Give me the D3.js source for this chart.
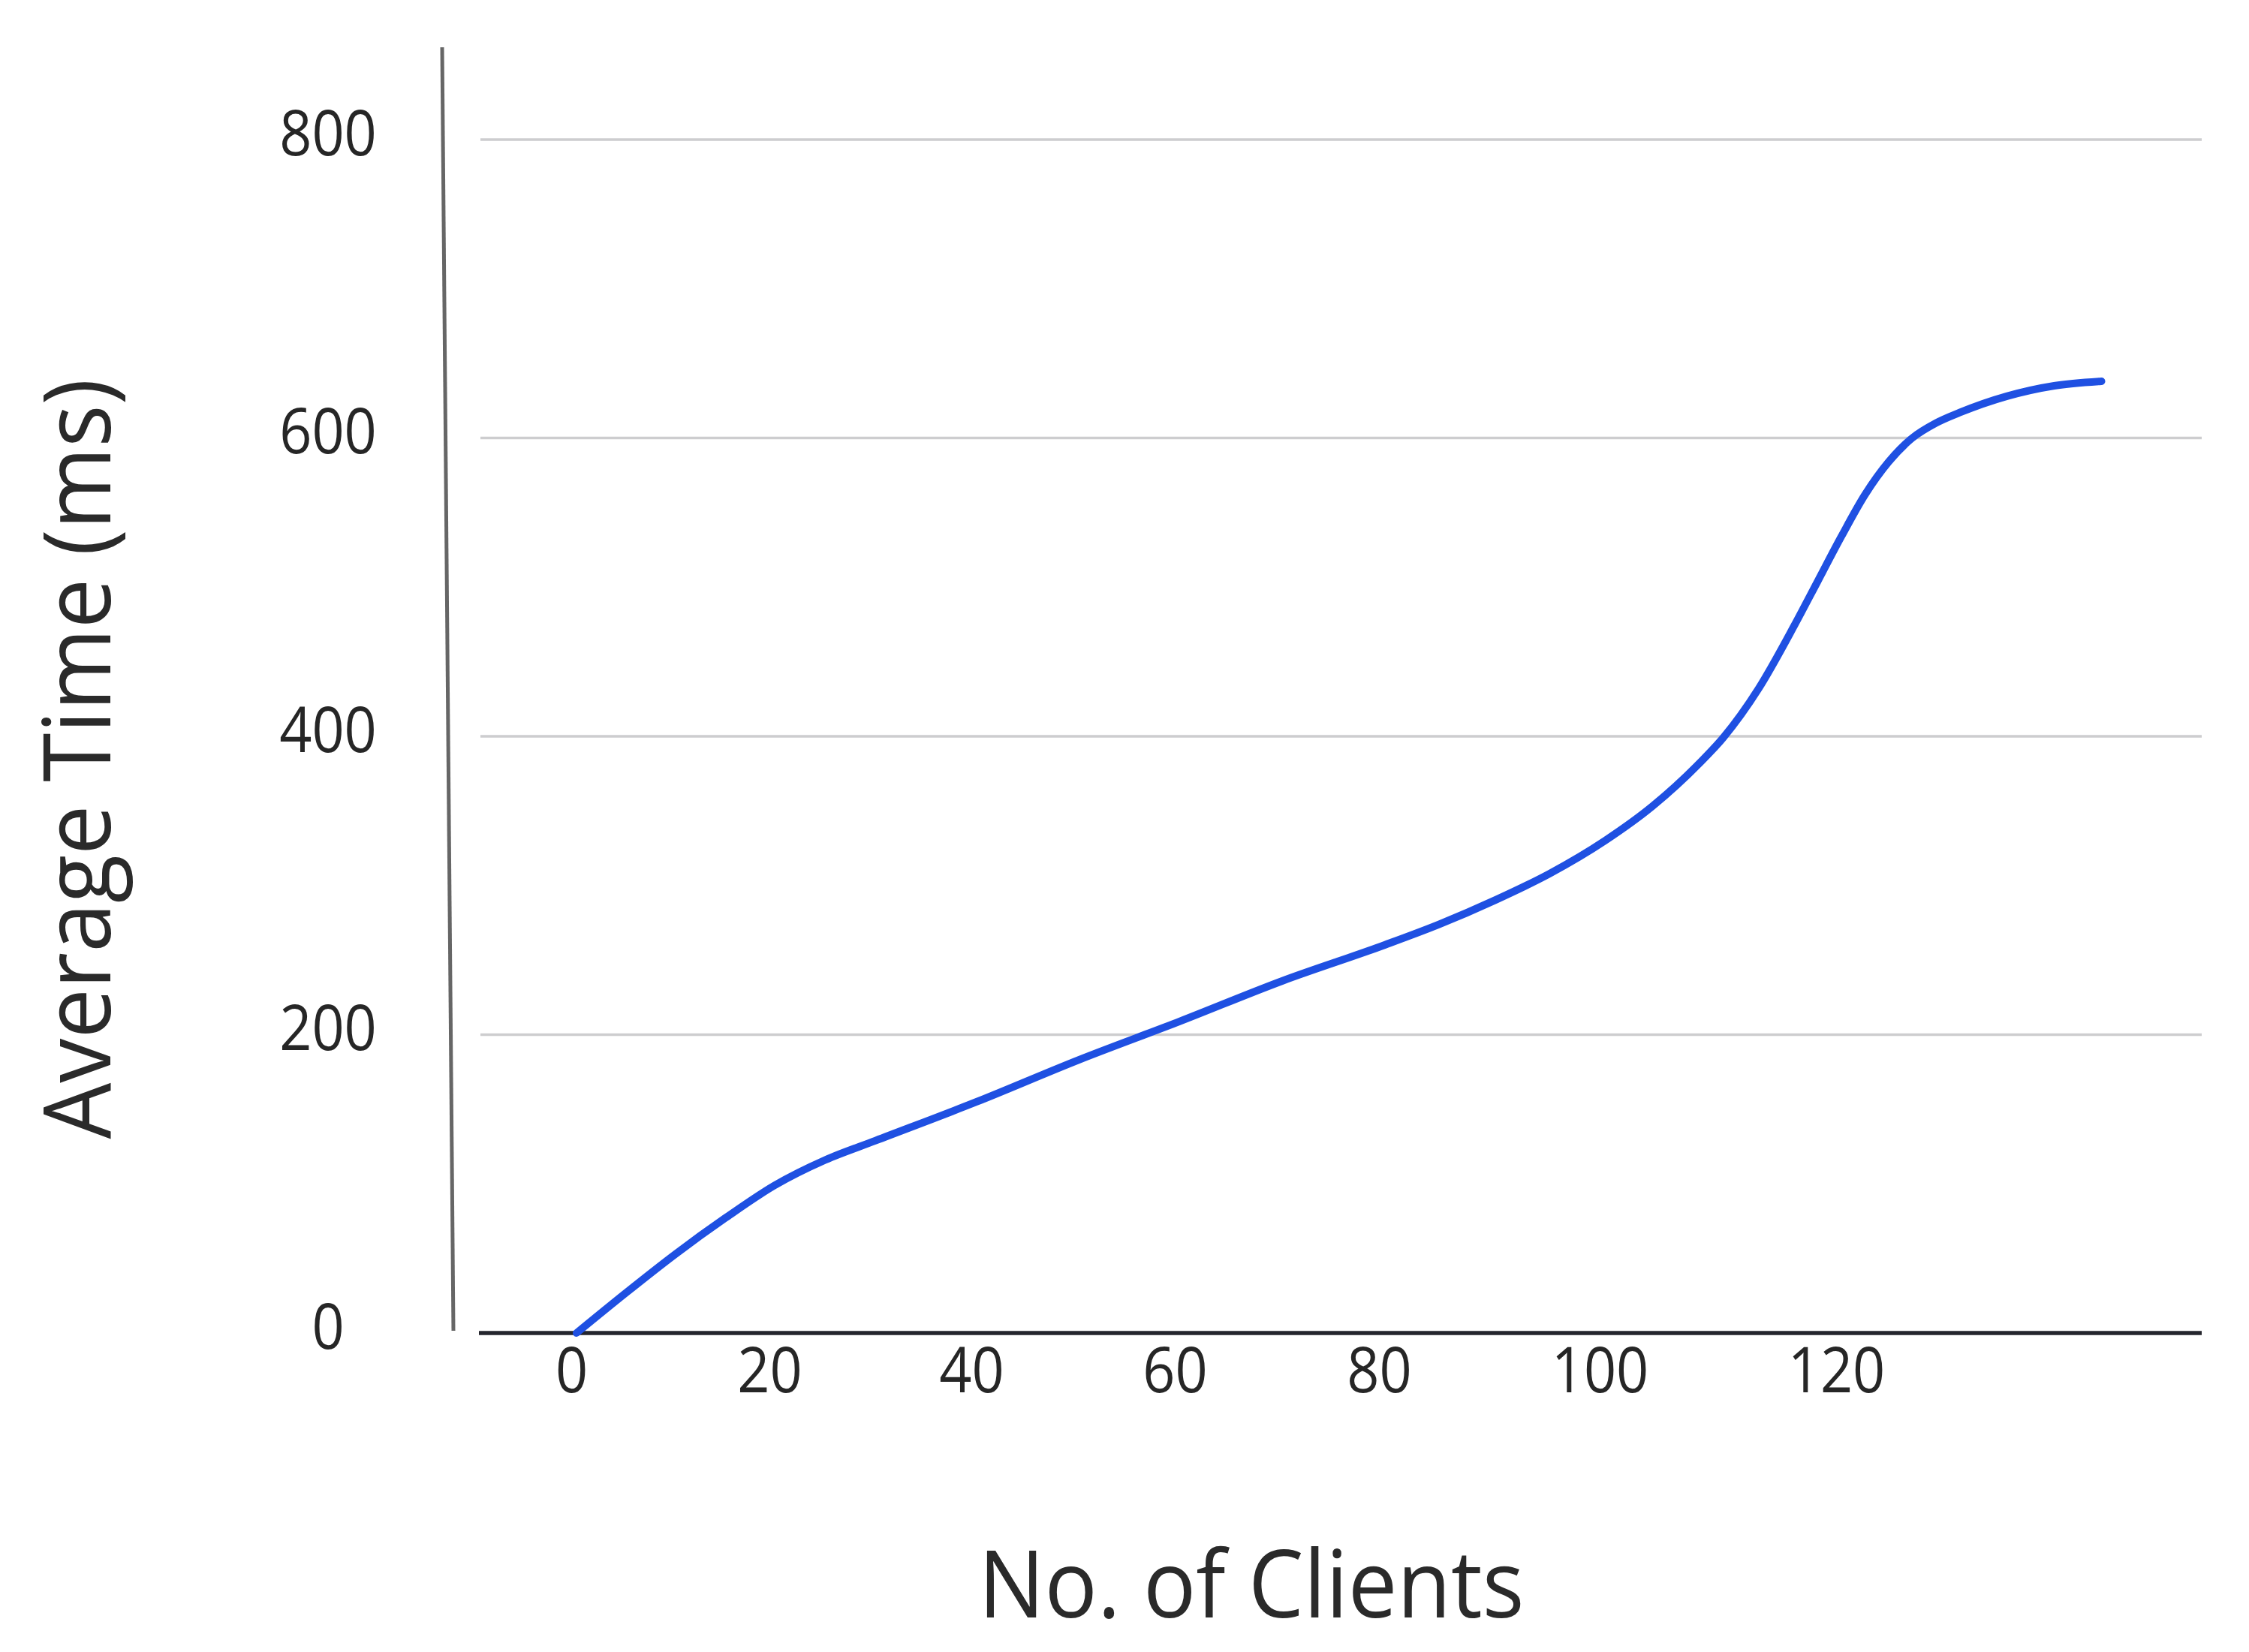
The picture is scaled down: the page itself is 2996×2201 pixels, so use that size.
<!DOCTYPE html>
<html>
<head>
<meta charset="utf-8">
<script src="https://cdnjs.cloudflare.com/ajax/libs/d3/7.8.5/d3.min.js"></script>
<style>
  html, body { margin: 0; padding: 0; background: #ffffff; }
  svg { display: block; }
</style>
</head>
<body>
<svg id="chart" width="2996" height="2201"></svg>
<script>
// ---- data ----
const clients    = [0, 5, 10, 15, 20, 25, 30, 40, 50, 60, 70, 80, 85, 90, 95, 100, 104, 108, 110, 113, 116, 118, 120, 122, 124, 126, 128, 130, 134, 138, 142];
const avgTimeMs  = [0, 27, 53, 77, 99, 116, 129, 155, 183, 209, 236, 260, 274, 290, 308, 330, 353, 382, 399, 432, 474, 504, 534, 562, 584, 600, 610, 617, 628, 635, 638];
const xTicks     = [0, 20, 40, 60, 80, 100, 120];
const yTicks     = [0, 200, 400, 600, 800];
const yGridTicks = [200, 400, 600, 800];
const xTitle = "No. of Clients";
const yTitle = "Average Time (ms)";

const data = clients.map((c, i) => ({ x: c, y: avgTimeMs[i] }));

// ---- layout ----
const svg = d3.select("#chart");
const FONT = "'Open Sans', 'Noto Sans', sans-serif";

// x tick labels in the original are not evenly spaced; piecewise scale reproduces that
const x = d3.scaleLinear()
  .domain(xTicks)
  .range([768, 1032, 1301, 1572, 1844, 2138, 2453]);
const y = d3.scaleLinear().domain([0, 800]).range([1776, 186]);

const plotLeft = 640, plotRight = 2933;

// gridlines
svg.append("g")
  .selectAll("line")
  .data(yGridTicks)
  .join("line")
  .attr("x1", plotLeft)
  .attr("x2", plotRight)
  .attr("y1", d => y(d))
  .attr("y2", d => y(d))
  .attr("stroke", "#cdcdcf")
  .attr("stroke-width", 3.5);

// y axis line (slightly slanted in the original)
svg.append("line")
  .attr("x1", 589).attr("y1", 63)
  .attr("x2", 604).attr("y2", 1773)
  .attr("stroke", "#666666")
  .attr("stroke-width", 5);

// x axis line
svg.append("line")
  .attr("x1", plotLeft - 2).attr("x2", plotRight)
  .attr("y1", y(0)).attr("y2", y(0))
  .attr("stroke", "#24252d")
  .attr("stroke-width", 5.5);

// x axis labels
const xAxis = svg.append("g")
  .attr("transform", `translate(-7, ${y(0)})`)
  .call(d3.axisBottom(x).tickValues(xTicks).tickFormat(d3.format("d")).tickSize(0).tickPadding(0));
xAxis.select(".domain").remove();
xAxis.selectAll("text")
  .attr("y", 0).attr("dy", 0)
  .attr("transform", "translate(0, 79) scale(0.9, 1)")
  .attr("fill", "#262626")
  .style("font-family", FONT)
  .style("font-size", "84px");

// y axis labels (centered)
const yAxis = svg.append("g")
  .attr("transform", "translate(437, 0)")
  .call(d3.axisLeft(y).tickValues(yTicks).tickFormat(d3.format("d")).tickSize(0).tickPadding(0));
yAxis.select(".domain").remove();
yAxis.selectAll("text")
  .attr("x", 0).attr("dy", 0)
  .attr("text-anchor", "middle")
  .attr("transform", "translate(0, 20) scale(0.9, 1)")
  .attr("fill", "#262626")
  .style("font-family", FONT)
  .style("font-size", "84px");

// series line
const line = d3.line()
  .x(d => x(d.x))
  .y(d => y(d.y))
  .curve(d3.curveMonotoneX);

svg.append("path")
  .datum(data)
  .attr("d", line)
  .attr("fill", "none")
  .attr("stroke", "#1f50e2")
  .attr("stroke-width", 10)
  .attr("stroke-linecap", "round")
  .attr("stroke-linejoin", "round");

// titles (horizontally fitted to the original's width)
function fitWidth(sel, target) {
  const w = sel.node().getComputedTextLength();
  return target / w;
}

const xt = svg.append("text")
  .text(xTitle)
  .attr("text-anchor", "middle")
  .attr("fill", "#2a2a2a")
  .style("font-family", FONT)
  .style("font-size", "124px");
const sx = fitWidth(xt, 727);
xt.attr("transform", `translate(1667, 2155) scale(${sx}, 1)`);

const yt = svg.append("text")
  .text(yTitle)
  .attr("text-anchor", "middle")
  .attr("fill", "#2a2a2a")
  .style("font-family", FONT)
  .style("font-size", "124px");
const sy = fitWidth(yt, 1013);
yt.attr("transform", `translate(147, 1011) rotate(-90) scale(${sy}, 1)`);
</script>
</body>
</html>
